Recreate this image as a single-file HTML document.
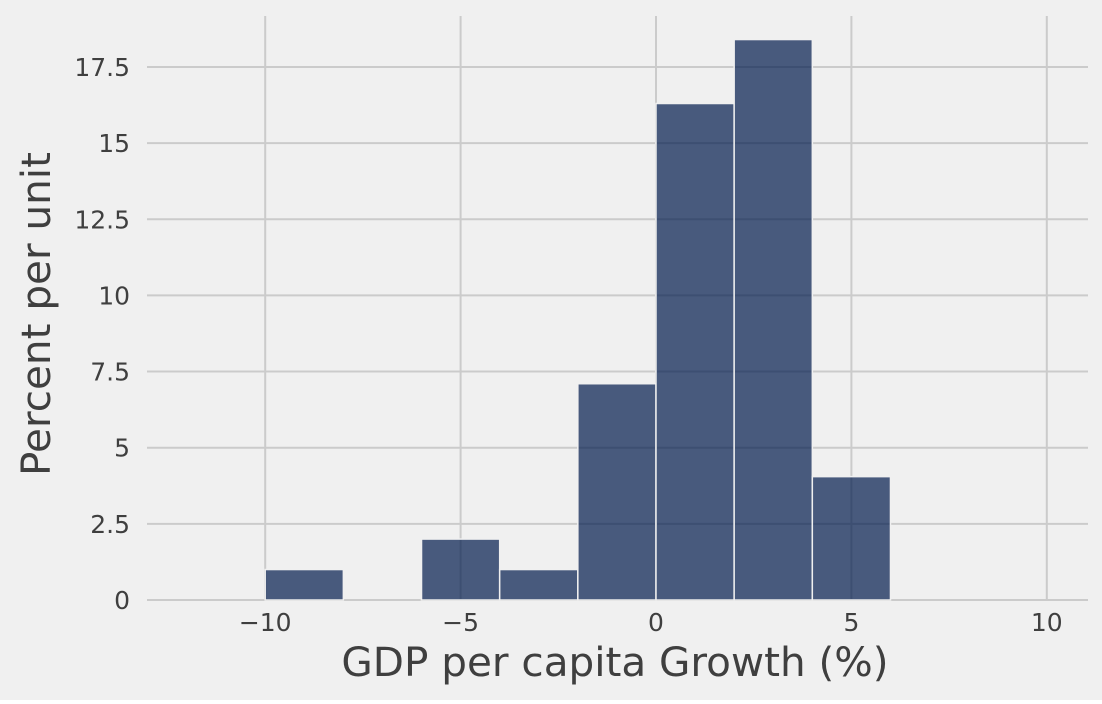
<!DOCTYPE html>
<html><head><meta charset="utf-8"><style>
html,body{margin:0;padding:0;background:#fff}
svg{display:block}
text{font-family:"DejaVu Sans","Liberation Sans",sans-serif;fill:#3f3f3f}
</style></head><body>
<svg width="1102" height="704">
<rect x="0" y="0" width="1102" height="700" fill="#f0f0f0"/>
<g id="grid"></g><g id="bars"></g><g id="ticks"></g>
<text x="615" y="676" font-size="40.5" text-anchor="middle">GDP per capita Growth (%)</text>
<text transform="translate(50,314) rotate(-90)" font-size="40.5" text-anchor="middle">Percent per unit</text>
</svg>
<script>
const binEdges=[-10,-8,-6,-4,-2,0,2,4,6];
const binValues=[1,0,2,1,7.1,16.3,18.4,4.05];
const xTicks=[-10,-5,0,5,10];
const xTickLabels=["\u221210","\u22125","0","5","10"];
const yTicks=[0,2.5,5,7.5,10,12.5,15,17.5];
const yTickLabels=["0","2.5","5","7.5","10","12.5","15","17.5"];
const X=v=>656+v*39.08, Y=v=>600-v*30.46;
const NS="http://www.w3.org/2000/svg";
function mk(t,a,p){const e=document.createElementNS(NS,t);for(const k in a)e.setAttribute(k,a[k]);p.appendChild(e);return e;}
const grid=document.getElementById('grid'),bars=document.getElementById('bars'),ticks=document.getElementById('ticks');
xTicks.forEach((v,i)=>{
 const l=mk('line',{x1:X(v),x2:X(v),y1:16,y2:600,stroke:'#cbcbcb','stroke-width':2},grid);
 
 
 const t=mk('text',{x:X(v),y:631,'font-size':25,'text-anchor':'middle'},ticks);t.textContent=xTickLabels[i];
 
 
});
yTicks.forEach((v,i)=>{
 const l=mk('line',{x1:147,x2:1088,y1:Y(v),y2:Y(v),stroke:'#cbcbcb','stroke-width':2},grid);
 
 
 const t=mk('text',{x:130,y:Y(v)+9,'font-size':25,'text-anchor':'end'},ticks);t.textContent=yTickLabels[i];
 
 
});
binValues.forEach((v,i)=>{
 if(v<=0)return;
 const x0=X(binEdges[i]),x1=X(binEdges[i+1]);
 const r=mk('rect',{x:x0,y:Y(v),width:x1-x0,height:Y(0)-Y(v),fill:'rgba(0,25,75,0.7)',stroke:'#f0f0f0','stroke-width':1.5},bars);
 
 
});
</script>
</body></html>
